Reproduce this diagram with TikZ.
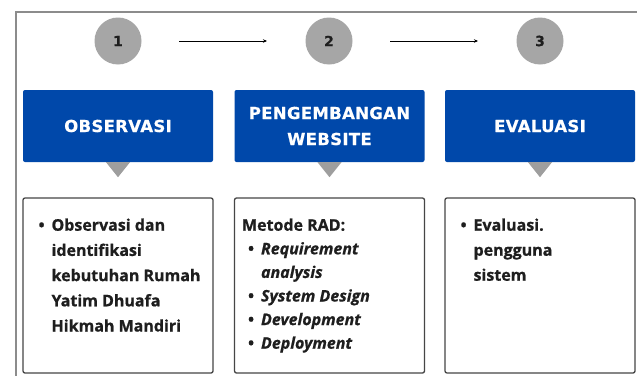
\documentclass[tikz,border=0pt]{standalone}
\usepackage{fontspec}
\setmainfont{Open Sans}[BoldFeatures={FakeBold=0.8},BoldItalicFeatures={FakeBold=0.8}]
\newfontfamily\headfont{DejaVu Sans}[LetterSpace=2,BoldFeatures={FakeBold=0.6}]
\usetikzlibrary{arrows.meta,calc}
\definecolor{hblue}{RGB}{0,72,170}
\definecolor{cgray}{RGB}{166,166,166}
\definecolor{tgray}{RGB}{158,158,158}
\definecolor{fgray}{RGB}{140,140,140}
\definecolor{bgray}{RGB}{70,70,70}
\definecolor{txt}{RGB}{30,30,30}
\newcommand\mybul{\makebox[13pt][l]{\textbullet}}
\newcommand\myind{\hspace*{13pt}}
\tikzset{
  stepcircle/.style={circle,fill=cgray,minimum size=47pt,inner sep=0pt,font=\headfont\bfseries\fontsize{14}{14}\selectfont,text=txt},
  flowarrow/.style={line width=0.8pt,-{Stealth[length=4pt,width=3.5pt]},shorten <=61pt,shorten >=62pt},
  headbox/.style={fill=hblue,rounded corners=2pt,minimum width=190pt,minimum height=72pt,inner sep=0pt,text=white,align=center,font=\headfont\bfseries\fontsize{16.5}{26}\selectfont},
  pointer/.style={fill=tgray},
  bodybox/.style={draw=bgray,line width=1.3pt,rounded corners=2pt,minimum width=190pt,minimum height=175pt,inner sep=0pt},
  bodytext/.style={anchor=north west,inner sep=0pt,align=left,text=txt},
  frame/.style={draw=fgray,line width=2pt}
}
\begin{document}
\begin{tikzpicture}[x=1pt,y=-1pt]
\useasboundingbox (0,0) rectangle (637,375);
\clip (0,0) rectangle (637,375);
\fill[white] (0,0) rectangle (637,375);
\draw[frame] (16,400) -- (16,12) -- (660,12);
% circles
\node[stepcircle] (c1) at (118,41) {1};
\node[stepcircle] (c2) at (329,41) {2};
\node[stepcircle] (c3) at (540,41) {3};
\draw[flowarrow] (c1.center) -- (c2.center);
\draw[flowarrow] (c2.center) -- (c3.center);
% head boxes
\node[headbox] (h1) at (118,126) {OBSERVASI};
\node[headbox] (h2) at (329.5,126) {PENGEMBANGAN\\WEBSITE};
\node[headbox] (h3) at (540,126) {EVALUASI};
\foreach \h in {h1,h2,h3}{
  \fill[pointer] ($(\h.south)+(-12,0)$) -- ($(\h.south)+(12,0)$) -- ($(\h.south)+(0,15)$) -- cycle;
}
% body boxes
\node[bodybox] (d1) at (118,285.5) {};
\node[bodybox] (d2) at (329.5,285.5) {};
\node[bodybox] (d3) at (540,285.5) {};
\node[bodytext,font=\bfseries\fontsize{16}{25.2}\selectfont] (t1) at ($(d1.north west)+(16,21)$) {\mybul Observasi dan\\\myind identifikasi\\\myind kebutuhan Rumah\\\myind Yatim Dhuafa\\\myind Hikmah Mandiri};
\node[bodytext,font=\bfseries\fontsize{16}{23.6}\selectfont] (t2) at ($(d2.north west)+(8,21)$) {Metode RAD:\\\hspace*{6pt}\mybul\textit{Requirement}\\\hspace*{6pt}\myind\textit{analysis}\\\hspace*{6pt}\mybul\textit{System Design}\\\hspace*{6pt}\mybul\textit{Development}\\\hspace*{6pt}\mybul\textit{Deployment}};
\node[bodytext,font=\bfseries\fontsize{16}{25}\selectfont] (t3) at ($(d3.north west)+(16,21)$) {\mybul Evaluasi.\\\myind pengguna\\\myind sistem};
\end{tikzpicture}
\end{document}
